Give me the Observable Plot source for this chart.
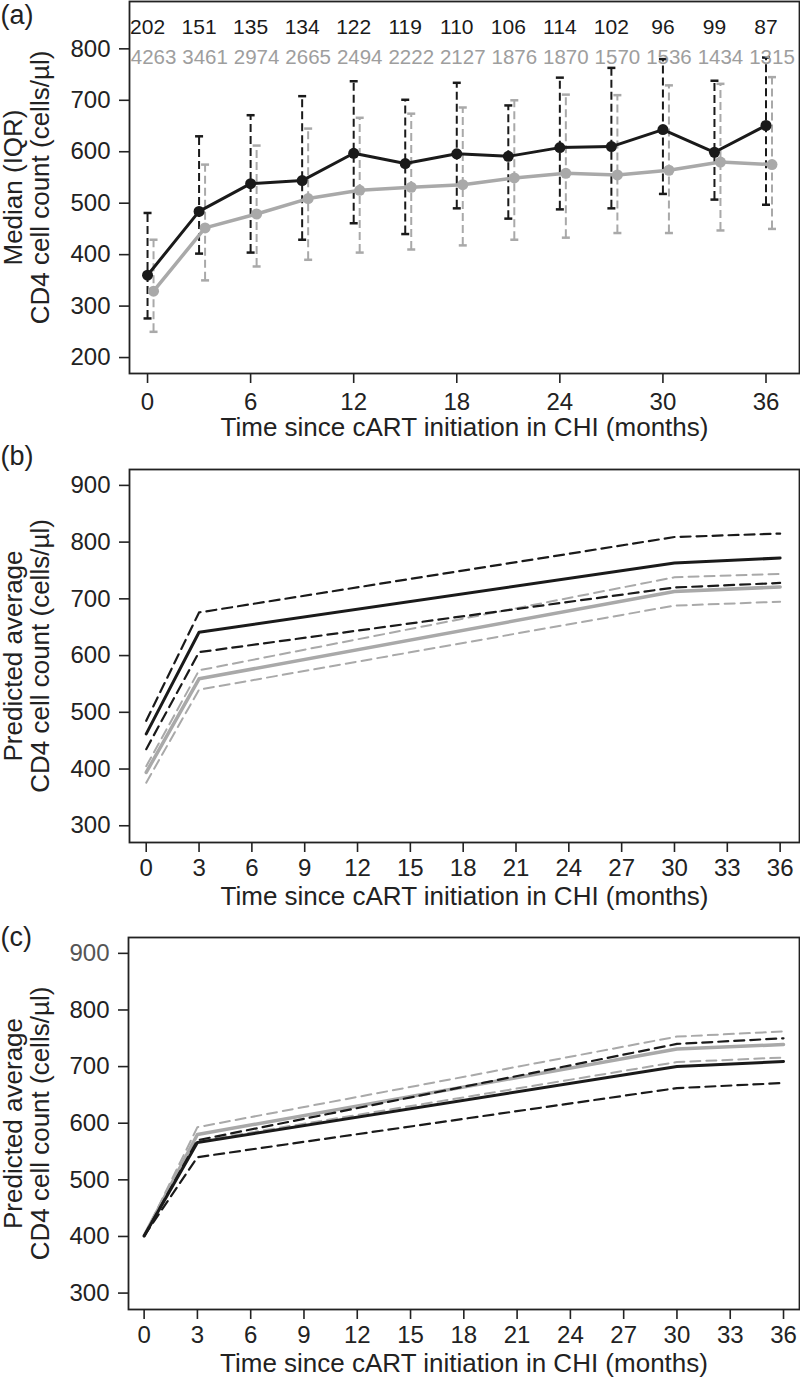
<!DOCTYPE html>
<html>
<head>
<meta charset="utf-8">
<script src="https://cdn.jsdelivr.net/npm/d3@7"></script>
<script src="https://cdn.jsdelivr.net/npm/@observablehq/plot@0.6"></script>
<style>
  html, body { margin: 0; padding: 0; background: #fff; }
  #chart svg { display: block; }
</style>
</head>
<body>
<div id="chart"></div>
<script>
// ---------- Panel (a): observed medians (IQR) ----------
const months = [0, 3, 6, 9, 12, 15, 18, 21, 24, 27, 30, 33, 36];
const nBlack = [202, 151, 135, 134, 122, 119, 110, 106, 114, 102, 96, 99, 87];
const nGrey = [4263, 3461, 2974, 2665, 2494, 2222, 2127, 1876, 1870, 1570, 1536, 1434, 1315];
const blackMedian = [360, 484, 538, 544, 597, 577, 596, 591, 608, 610, 643, 599, 651];
const blackQ1 = [276, 402, 404, 429, 461, 440, 490, 470, 488, 490, 518, 507, 497];
const blackQ3 = [481, 630, 671, 708, 737, 701, 734, 690, 744, 763, 780, 738, 783];
const greyMedian = [329, 452, 479, 509, 525, 531, 536, 549, 558, 555, 564, 580, 575];
const greyQ1 = [250, 350, 377, 390, 404, 410, 418, 429, 433, 442, 442, 447, 450];
const greyQ3 = [429, 575, 612, 645, 666, 674, 686, 700, 711, 710, 729, 732, 745];

// ---------- Panel (b): predicted averages ----------
const knots = [0, 3, 30, 36];
const bBlack = [462, 641, 763, 772];
const bBlackUpper = [485, 676, 809, 815];
const bBlackLower = [435, 606, 720, 728];
const bGrey = [394, 559, 713, 721];
const bGreyUpper = [405, 574, 738, 744];
const bGreyLower = [376, 540, 688, 695];

// ---------- Panel (c): predicted averages ----------
const cBlack = [401, 566, 700, 709];
const cBlackUpper = [401, 570, 740, 750];
const cBlackLower = [401, 540, 662, 671];
const cGrey = [401, 580, 731, 739];
const cGreyUpper = [401, 593, 753, 762];
const cGreyLower = [401, 568, 708, 716];

const xTitle = "Time since cART initiation in CHI (months)";
const BLACK = "#1a1a1a";
const GREY = "#a9a9a9";
const FONT = "'Liberation Sans', Arial, Helvetica, sans-serif";

const capSymbol = {
  draw(context, size) {
    const r = Math.sqrt(size / Math.PI);
    context.moveTo(-r, 0);
    context.lineTo(r, 0);
  }
};

function rows(xs, ys) { return xs.map((x, i) => ({x, y: ys[i]})); }

function commonMarks(o) {
  const axisText = {fontSize: 24};
  const marks = [
    Plot.frame({stroke: "#222", strokeWidth: 1.8}),
    Plot.text([o.tag], {text: d => d, frameAnchor: "top-left", dx: -o.marginLeft, dy: o.tagDy,
      textAnchor: "start", lineAnchor: "middle", fontSize: 27}),
    Plot.text([o.yTitle], {text: d => d, frameAnchor: "left", rotate: -90, dx: 26.5 - o.marginLeft,
      textAnchor: "middle", lineAnchor: "middle", lineHeight: 1.05, fontSize: 26}),
    Plot.text([xTitle], {text: d => d, frameAnchor: "bottom", dy: 54, lineAnchor: "middle", fontSize: 26}),
    Plot.axisX({ticks: o.xTicks, tickSize: 10, tickPadding: o.xPad, tickFormat: d => String(d), label: null, strokeWidth: 1.6, ...axisText}),
  ];
  if (o.greyTop) {
    marks.push(Plot.axisY({ticks: o.yTicks.filter(t => t !== 900), tickSize: 10, tickPadding: 9, label: null, strokeWidth: 1.6, ...axisText}));
    marks.push(Plot.axisY({ticks: [900], tickSize: 10, tickPadding: 9, label: null, strokeWidth: 1.6, fill: "#555", ...axisText}));
  } else {
    marks.push(Plot.axisY({ticks: o.yTicks, tickSize: 10, tickPadding: 9, label: null, strokeWidth: 1.6, ...axisText}));
  }
  return marks;
}

function makePlot(o, dataMarks) {
  return Plot.plot({
    width: 800,
    height: o.height,
    marginTop: o.marginTop,
    marginBottom: o.marginBottom,
    marginLeft: o.marginLeft,
    marginRight: 1,
    x: {domain: o.xDomain},
    y: {domain: o.yDomain},
    style: {fontFamily: FONT, fontSize: "24px", color: "#222", background: "#fff", overflow: "visible"},
    marks: [...dataMarks, ...commonMarks(o)]
  });
}

// ----- Panel (a) -----
const aBlack = months.map((m, i) => ({x: m, y: blackMedian[i], lo: blackQ1[i], hi: blackQ3[i], n: nBlack[i]}));
const aGrey = months.map((m, i) => ({x: m, y: greyMedian[i], lo: greyQ1[i], hi: greyQ3[i], n: nGrey[i]}));
const aOpts = {height: 440, marginTop: 1, marginBottom: 67, marginLeft: 129,
  xDomain: [-1.05, 37.95], yDomain: [169, 892],
  xTicks: [0, 6, 12, 18, 24, 30, 36], yTicks: [200, 300, 400, 500, 600, 700, 800], xPad: 9,
  tag: "(a)", tagDy: 14, yTitle: "Median (IQR)\nCD4 cell count (cells/\u00b5l)"};
const plotA = makePlot(aOpts, [
  Plot.ruleX(aGrey, {x: "x", y1: "lo", y2: "hi", dx: 6, stroke: GREY, strokeWidth: 2, strokeDasharray: "8,4"}),
  Plot.dot(aGrey, {x: "x", y: "lo", dx: 6, symbol: capSymbol, r: 4, stroke: GREY, strokeWidth: 2.5, fill: "none"}),
  Plot.dot(aGrey, {x: "x", y: "hi", dx: 6, symbol: capSymbol, r: 4, stroke: GREY, strokeWidth: 2.5, fill: "none"}),
  Plot.ruleX(aBlack, {x: "x", y1: "lo", y2: "hi", stroke: BLACK, strokeWidth: 2, strokeDasharray: "8,4"}),
  Plot.dot(aBlack, {x: "x", y: "lo", symbol: capSymbol, r: 4, stroke: BLACK, strokeWidth: 2.5, fill: "none"}),
  Plot.dot(aBlack, {x: "x", y: "hi", symbol: capSymbol, r: 4, stroke: BLACK, strokeWidth: 2.5, fill: "none"}),
  Plot.line(aGrey, {x: "x", y: "y", dx: 6, stroke: GREY, strokeWidth: 3.5}),
  Plot.dot(aGrey, {x: "x", y: "y", dx: 6, r: 5.5, fill: GREY}),
  Plot.line(aBlack, {x: "x", y: "y", stroke: BLACK, strokeWidth: 3}),
  Plot.dot(aBlack, {x: "x", y: "y", r: 5.5, fill: BLACK}),
  Plot.text(aBlack, {x: "x", text: d => String(d.n), frameAnchor: "top", dy: 18, fontSize: 21, fill: BLACK}),
  Plot.text(aGrey, {x: "x", text: d => String(d.n), frameAnchor: "top", dx: 6, dy: 48, fontSize: 20.5, fill: "#9e9e9e"})
]);

// ----- Panels (b) and (c) -----
function predictedMarks(bl, blU, blL, gr, grU, grL) {
  return [
    Plot.line(rows(knots, grU), {x: "x", y: "y", stroke: GREY, strokeWidth: 2, strokeDasharray: "10,6"}),
    Plot.line(rows(knots, grL), {x: "x", y: "y", stroke: GREY, strokeWidth: 2, strokeDasharray: "10,6"}),
    Plot.line(rows(knots, gr), {x: "x", y: "y", stroke: GREY, strokeWidth: 3.5}),
    Plot.line(rows(knots, blU), {x: "x", y: "y", stroke: BLACK, strokeWidth: 2.2, strokeDasharray: "10,6"}),
    Plot.line(rows(knots, blL), {x: "x", y: "y", stroke: BLACK, strokeWidth: 2.2, strokeDasharray: "10,6"}),
    Plot.line(rows(knots, bl), {x: "x", y: "y", stroke: BLACK, strokeWidth: 3})
  ];
}
const ticks3 = d3.range(0, 37, 3);
const yTicksBC = [300, 400, 500, 600, 700, 800, 900];
const plotB = makePlot({height: 468, marginTop: 29, marginBottom: 66, marginLeft: 129,
  xDomain: [-0.95, 37.1], yDomain: [270.5, 928], xTicks: ticks3, yTicks: yTicksBC, xPad: 6,
  tag: "(b)", tagDy: -13, yTitle: "Predicted average\nCD4 cell count (cells/\u00b5l)"},
  predictedMarks(bBlack, bBlackUpper, bBlackLower, bGrey, bGreyUpper, bGreyLower));
const plotC = makePlot({height: 470, marginTop: 29, marginBottom: 69, marginLeft: 128,
  xDomain: [-0.88, 36.9], yDomain: [271, 928], xTicks: ticks3, yTicks: yTicksBC, xPad: 6, greyTop: true,
  tag: "(c)", tagDy: 0, yTitle: "Predicted average\nCD4 cell count (cells/\u00b5l)"},
  predictedMarks(cBlack, cBlackUpper, cBlackLower, cGrey, cGreyUpper, cGreyLower));

const chart = document.getElementById("chart");
chart.append(plotA, plotB, plotC);
</script>
</body>
</html>
